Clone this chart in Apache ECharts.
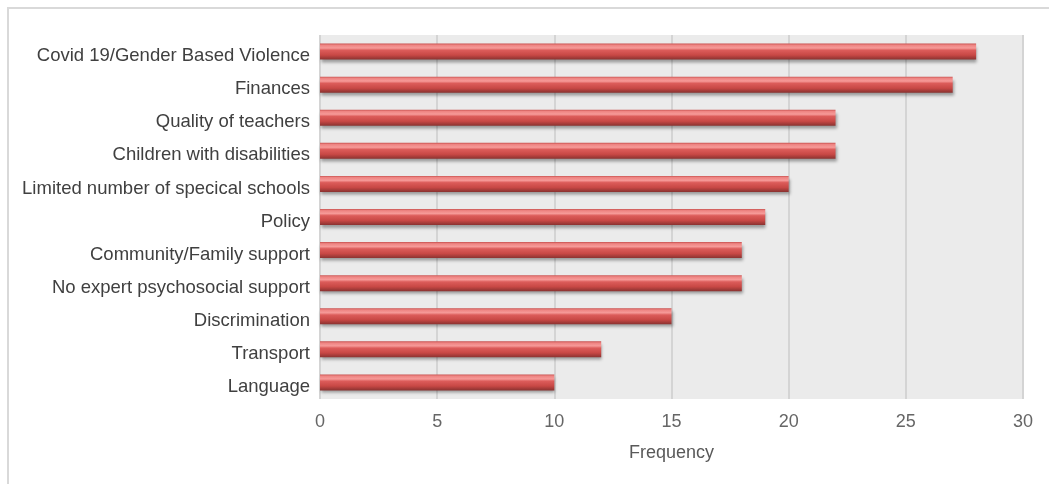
<!DOCTYPE html>
<html><head><meta charset="utf-8">
<script src="https://cdn.jsdelivr.net/npm/echarts@6/dist/echarts.min.js"></script>
<style>html,body{margin:0;padding:0;background:#fff;}#c{width:1049px;height:484px;}
#frame{position:absolute;left:7px;top:7px;width:1100px;height:600px;border:2px solid #d9d9d9;box-sizing:border-box;pointer-events:none;}</style>
</head><body><div id="c"></div><div id="frame"></div>
<script>
const categories = ["Covid 19/Gender Based Violence","Finances","Quality of teachers","Children with disabilities","Limited number of specical schools","Policy","Community/Family support","No expert psychosocial support","Discrimination","Transport","Language"];
const values = [28,27,22,22,20,19,18,18,15,12,10];
const xTicks = [0,5,10,15,20,25,30];

const chart = echarts.init(document.getElementById('c'));
chart.setOption({
  animation:false,
  grid:{left:320,right:26,top:35,bottom:85,show:true,backgroundColor:'#ebebeb',borderWidth:0},
  xAxis:{type:'value',min:0,max:30,interval:5,name:'Frequency',nameLocation:'middle',nameGap:45,
    nameTextStyle:{fontFamily:'Liberation Sans',fontSize:18,color:'#595959'},
    axisLabel:{fontFamily:'Liberation Sans',fontSize:18,color:'#666666',margin:14},
    axisLine:{show:false},axisTick:{show:false},
    splitLine:{lineStyle:{color:'#d4d4d4',width:2}}},
  yAxis:{type:'category',data:categories,inverse:true,
    axisLabel:{margin:10,formatter:function(v){return '{a|'+v+'}';},
      rich:{a:{fontFamily:'Liberation Sans',fontSize:18.5,color:'#404040',padding:[9,0,0,0]}}},
    axisLine:{show:false},axisTick:{show:false},splitLine:{show:false}},
  series:[{type:'bar',data:values,barWidth:16,
    itemStyle:{
      color:{type:'linear',x:0,y:0,x2:0,y2:1,colorStops:[
        {offset:0,color:'#c85250'},{offset:0.1,color:'#ee8482'},{offset:0.28,color:'#f69a98'},
        {offset:0.42,color:'#dc5c5a'},{offset:0.72,color:'#c84845'},{offset:1,color:'#8a3230'}]},
      shadowColor:'rgba(0,0,0,0.35)',shadowBlur:3,shadowOffsetY:3,shadowOffsetX:1}
  }]
});
</script></body></html>
